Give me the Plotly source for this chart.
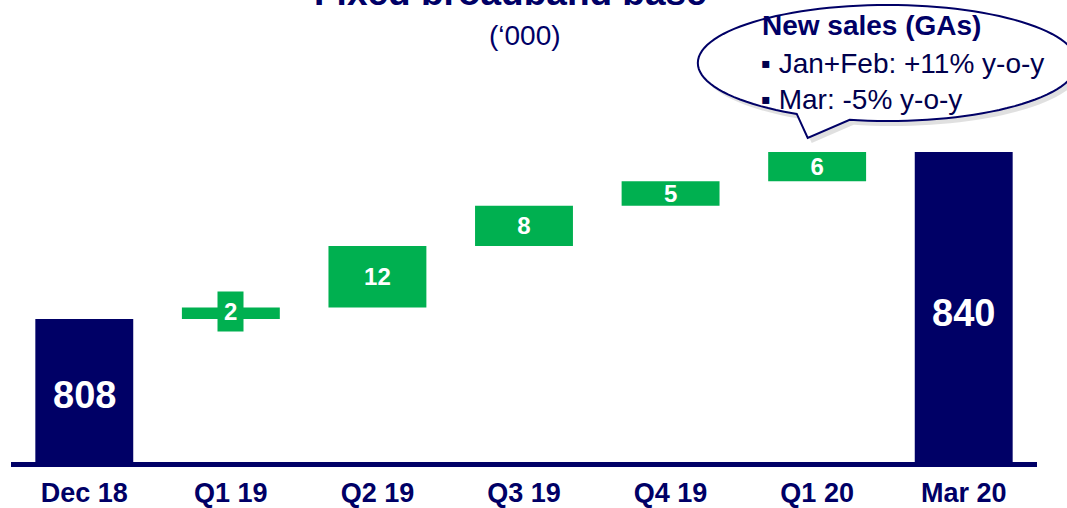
import math
import plotly.graph_objects as go

# ---------------- data ----------------
categories = ["Dec 18", "Q1 19", "Q2 19", "Q3 19", "Q4 19", "Q1 20", "Mar 20"]
start_value = 808
end_value = 840
deltas = [2.2, 11.8, 7.7, 4.7, 5.6]          # quarterly net adds ('000)
delta_labels = ["2", "12", "8", "5", "6"]     # labels as printed
title_text = "Fixed broadband base"
subtitle_text = "(‘000)"
callout_title = "New sales (GAs)"
callout_lines = ["▪ Jan+Feb: +11% y-o-y", "▪ Mar: -5% y-o-y"]

NAVY = "#000066"
GREEN = "#00B050"
FONT = "Liberation Sans, Arial, sans-serif"

# ---------------- geometry (pixels) ----------------
W_PX, H_PX = 1067, 508
L_M, R_M, T_M, B_M = 10.5, 29.5, 0, 46
PLOT_W = W_PX - L_M - R_M
PLOT_H = H_PX - T_M - B_M
Y_MIN, Y_MAX = 780.6, 869.1


def pxx(x):
    return (x - L_M) / PLOT_W


def pxy(y):
    return (T_M + PLOT_H - y) / PLOT_H


def val_at(y):
    return Y_MIN + (Y_MAX - Y_MIN) * pxy(y)


# ---------------- bars ----------------
bases, values, colors, texts = [0], [start_value], [NAVY], [""]
running = start_value
for d, lab in zip(deltas, delta_labels):
    bases.append(running)
    values.append(d)
    colors.append(GREEN)
    texts.append(lab)
    running += d
bases.append(0)
values.append(end_value)
colors.append(NAVY)
texts.append("")
texts[1] = ""  # Q1 19 label drawn as a boxed annotation

fig = go.Figure()
fig.add_trace(go.Bar(
    x=categories, y=values, base=bases,
    marker=dict(color=colors, line=dict(width=0)),
    text=texts, textposition="inside", insidetextanchor="middle",
    textangle=0, constraintext="none",
    textfont=dict(family=FONT, size=24, color="white", weight="bold"),
    hoverinfo="skip", showlegend=False,
))

annotations = []
# totals labels
annotations.append(dict(x=categories[0], y=val_at(395), xref="x", yref="y",
                        text=f"<b>{start_value}</b>", showarrow=False, yanchor="middle",
                        font=dict(family=FONT, size=38, color="white")))
annotations.append(dict(x=categories[-1], y=val_at(313), xref="x", yref="y",
                        text=f"<b>{end_value}</b>", showarrow=False, yanchor="middle",
                        font=dict(family=FONT, size=38, color="white")))
# small delta label box
annotations.append(dict(x=categories[1], y=val_at(311), xref="x", yref="y",
                        text=f"<b>{delta_labels[0]}</b>", showarrow=False, yanchor="middle",
                        bgcolor=GREEN, borderpad=6,
                        font=dict(family=FONT, size=24, color="white")))
# title + subtitle
annotations.append(dict(x=pxx(510), y=pxy(15), xref="paper", yref="paper",
                        text=f"<b>{title_text}</b>", showarrow=False, yanchor="bottom",
                        xanchor="center",
                        font=dict(family=FONT, size=37, color=NAVY)))
annotations.append(dict(x=pxx(525), y=pxy(35), xref="paper", yref="paper",
                        text=subtitle_text, showarrow=False, yanchor="middle",
                        xanchor="center",
                        font=dict(family=FONT, size=28, color=NAVY)))

# callout bubble
cx, cy, rx, ry = 888, 63, 190, 58
t_right, t_left = math.acos((850 - cx) / rx), math.acos((797 - cx) / rx)
tip = (808, 138)


def bubble_path(dx=0, dy=0):
    pts = []
    n = 120
    for i in range(n + 1):
        t = 2 * math.pi * i / n
        if t_right < t < t_left:
            continue
        pts.append((cx + rx * math.cos(t), cy + ry * math.sin(t)))
        if i < n and t <= t_right < 2 * math.pi * (i + 1) / n:
            pts.append((cx + rx * math.cos(t_right), cy + ry * math.sin(t_right)))
            pts.append(tip)
            pts.append((cx + rx * math.cos(t_left), cy + ry * math.sin(t_left)))
    s = "M " + " L ".join(f"{pxx(x + dx):.5f},{pxy(y + dy):.5f}" for x, y in pts) + " Z"
    return s


shapes = [
    dict(type="path", xref="paper", yref="paper", path=bubble_path(4, 5),
         fillcolor="rgba(0,0,0,0.12)", line=dict(width=0), layer="above"),
    dict(type="path", xref="paper", yref="paper", path=bubble_path(),
         fillcolor="white", line=dict(color=NAVY, width=2), layer="above"),
]

annotations.append(dict(x=pxx(760), y=pxy(25), xref="paper", yref="paper",
                        text=f"<b>{callout_title}</b>", showarrow=False,
                        xanchor="left", yanchor="middle",
                        font=dict(family=FONT, size=28, color=NAVY)))
for i, line in enumerate(callout_lines):
    annotations.append(dict(x=pxx(759), y=pxy(64 + 35 * i), xref="paper", yref="paper",
                            text=line, showarrow=False, xanchor="left", yanchor="middle",
                            font=dict(family=FONT, size=28, color="#00004d")))

fig.update_layout(
    width=W_PX, height=H_PX,
    margin=dict(l=L_M, r=R_M, t=T_M, b=B_M, pad=0),
    paper_bgcolor="white", plot_bgcolor="white",
    bargap=0.332,
    xaxis=dict(showgrid=False, zeroline=False, showline=True, linecolor=NAVY, linewidth=5,
               ticks="", ticklabelstandoff=3,
               tickfont=dict(family=FONT, size=27, color=NAVY, weight="bold"),
               fixedrange=True),
    yaxis=dict(range=[Y_MIN, Y_MAX], visible=False, fixedrange=True),
    annotations=annotations, shapes=shapes,
)

fig.write_html("out.html", config={"displayModeBar": False},
               post_script="document.body.style.margin='0px';document.body.style.overflow='hidden';")
